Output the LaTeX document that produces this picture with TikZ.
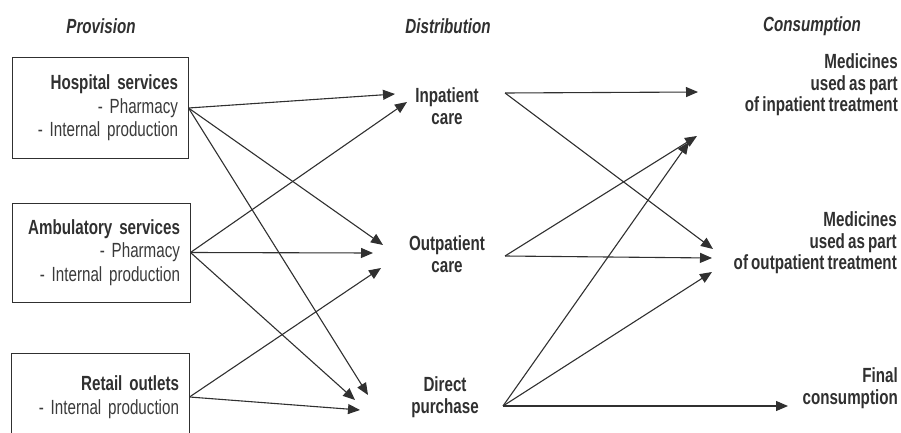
\documentclass[tikz,border=0pt]{standalone}
\usepackage{fontspec}
\setmainfont{Liberation Sans}[FakeStretch=0.74,WordSpace=0.75]
\usetikzlibrary{arrows.meta,calc}
\definecolor{ink}{HTML}{303030}
\definecolor{txt}{HTML}{3a3a3a}
\begin{document}
\begin{tikzpicture}[x=1pt,y=-1pt,
  boxnode/.style={draw=ink, line width=1pt, align=right, inner xsep=10pt, inner ysep=0pt, text=txt,
    font=\fontsize{20.5}{23.5}\selectfont},
  headnode/.style={font=\fontsize{20.5}{22}\selectfont\bfseries\itshape, text=ink, inner sep=0pt},
  distnode/.style={align=center, font=\fontsize{20.5}{22}\selectfont\bfseries, text=ink, inner sep=0pt},
  consnode/.style={align=right, anchor=east, font=\fontsize{20.5}{21.5}\selectfont\bfseries, text=ink, inner sep=0pt},
  arr/.style={draw=ink, line width=1.1pt, -{Triangle[length=12pt,width=10pt]}}]
\useasboundingbox (0,0) rectangle (901,433);
\clip (0,0) rectangle (901,433);

% headers
\node[headnode] (hprov) at (101,26) {Provision};
\node[headnode] (hdist) at (448,26) {Distribution};
\node[headnode] (hcons) at (812,26) {Consumption};

% provision boxes
\node[boxnode, minimum height=100pt, text width=156pt] (hosp) at (100,108)
  {\textbf{\color{ink}Hospital services}\\- Pharmacy\\- Internal production};
\node[boxnode, minimum height=99pt, text width=158pt] (amb) at (101,252.5)
  {\textbf{\color{ink}Ambulatory services}\\- Pharmacy\\- Internal production};
\node[boxnode, minimum height=88pt, text width=158pt] (ret) at (100,397)
  {\textbf{\color{ink}Retail outlets}\\- Internal production};

% distribution
\node[distnode] (inp) at (447,106) {Inpatient\\care};
\node[distnode] (outp) at (447,254) {Outpatient\\care};
\node[distnode] (dir) at (445,397) {Direct\\purchase};

% consumption
\node[consnode] (cin) at (898,85) {Medicines\\used as part\\of inpatient treatment};
\node[consnode] (cout) at (897,243) {Medicines\\used as part\\of outpatient treatment};
\node[consnode] (cfin) at (898,388) {Final\\consumption};

% provision -> distribution
\draw[arr] (hosp.east) -- ($(inp)+(-52,-12)$);
\draw[arr] (hosp.east) -- ($(outp)+(-64,-9)$);
\draw[arr] (hosp.east) -- ($(dir)+(-77,-2)$);
\draw[arr] (amb.east) -- ($(inp)+(-40,-4)$);
\draw[arr] (amb.east) -- ($(outp)+(-74,-1)$);
\draw[arr] (amb.east) -- ($(dir)+(-90,3)$);
\draw[arr] (ret.east) -- ($(outp)+(-66,14)$);
\draw[arr] (ret.east) -- ($(dir)+(-85,13)$);

% distribution -> consumption
\draw[arr] ($(inp)+(58,-13)$) -- ($(cin.east)+(-200,7)$);
\draw[arr] ($(inp)+(58,-13)$) -- ($(cout.east)+(-184,6)$);
\draw[arr] ($(outp)+(58,2)$) -- ($(cin.east)+(-201,51)$);
\draw[arr] ($(outp)+(58,2)$) -- ($(cout.east)+(-185,15)$);
\draw[arr] ($(dir)+(58,9)$) -- ($(cin.east)+(-209,57)$);
\draw[arr] ($(dir)+(58,9)$) -- ($(cout.east)+(-185,29)$);
\draw[arr] ($(dir)+(58,9)$) -- ($(cfin.east)+(-110,18)$);
\end{tikzpicture}
\end{document}
